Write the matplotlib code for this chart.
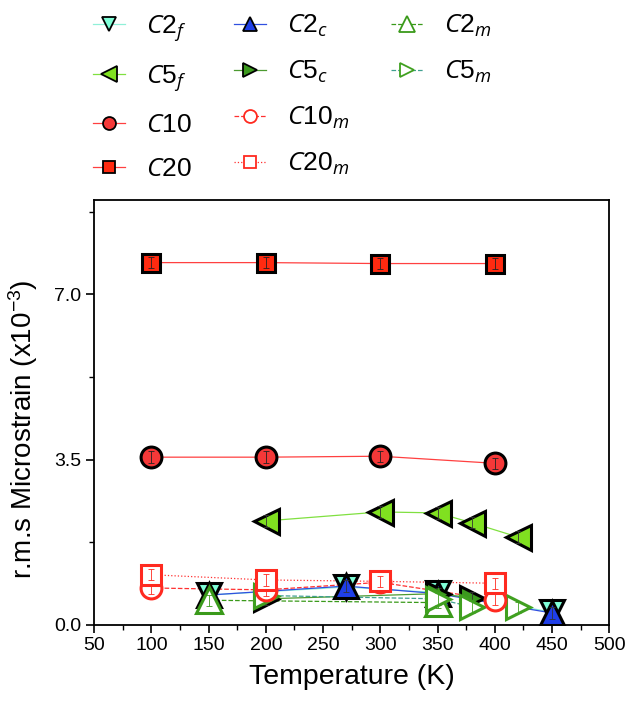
import matplotlib
matplotlib.use("Agg")
import matplotlib.pyplot as plt
from matplotlib.lines import Line2D
from matplotlib.ticker import MultipleLocator

plt.rcParams['font.family'] = ['Liberation Sans', 'DejaVu Sans']
plt.rcParams['mathtext.fontset'] = 'custom'
plt.rcParams['mathtext.rm'] = 'Liberation Sans'
plt.rcParams['mathtext.it'] = 'Open Sans:italic'

# data (x in K, y in 1e-3)
c2f_x = [150, 270, 350, 450]
c2f_y = [0.63, 0.80, 0.68, 0.27]
c2c_x = [150, 270, 350, 450]
c2c_y = [0.63, 0.82, 0.66, 0.25]
c2m_x = [150, 350]
c2m_y = [0.52, 0.47]
c5f_x = [200, 300, 350, 380, 420]
c5f_y = [2.20, 2.39, 2.37, 2.16, 1.86]
c5c_x = [200, 350, 380]
c5c_y = [0.55, 0.66, 0.57]
c5m_x = [200, 350, 380, 420]
c5m_y = [0.62, 0.55, 0.38, 0.37]
c10_x = [100, 200, 300, 400]
c10_y = [3.55, 3.55, 3.57, 3.42]
c10m_x = [100, 200, 300, 400]
c10m_y = [0.78, 0.74, 0.90, 0.53]
c20_x = [100, 200, 300, 400]
c20_y = [7.67, 7.67, 7.65, 7.65]
c20m_x = [100, 200, 300, 400]
c20m_y = [1.06, 0.95, 0.92, 0.88]

fig = plt.figure(figsize=(6.4, 7.06), dpi=100)
ax = fig.add_axes([0.147, 0.115, 0.805, 0.602])

# (x, y, name, subscript, marker, face, edge, line color, linestyle, size, errcolor)
series = [
    (c2f_x, c2f_y, 'C2', 'f', 'v', '#80ffd8', 'black', '#90f0d8', '-', 17, '#333333'),
    (c2c_x, c2c_y, 'C2', 'c', '^', '#1f3fe8', 'black', '#3050e0', '-', 17, '#333333'),
    (c5c_x, c5c_y, 'C5', 'c', '>', '#3c9a1e', 'black', '#4c9a30', '-', 17, '#333333'),
    (c2m_x, c2m_y, 'C2', 'm', '^', 'white', '#3a9a1a', '#3a9a1a', '--', 19, '#3a9a1a'),
    (c5m_x, c5m_y, 'C5', 'm', '>', 'white', '#40a020', '#40a090', '--', 17, '#40a020'),
    (c5f_x, c5f_y, 'C5', 'f', '<', '#80e020', 'black', '#80e040', '-', 18, '#333333'),
    (c10m_x, c10m_y, 'C10', 'm', 'o', 'white', '#ff2a20', '#ff3030', '--', 15, '#ff2a20'),
    (c20m_x, c20m_y, 'C20', 'm', 's', 'white', '#ff2a20', '#ff3030', ':', 14, '#ff2a20'),
    (c10_x, c10_y, 'C10', '', 'o', '#f53838', 'black', '#ff4040', '-', 15, '#222222'),
    (c20_x, c20_y, 'C20', '', 's', '#ff2a10', 'black', '#ff4040', '-', 13, '#222222'),
]

handles = {}
for i, (x, y, name, sub, mk, fc, ec, lc, ls, ms, erc) in enumerate(series):
    ax.plot(x, y, color=lc, linestyle=ls, linewidth=0.9, zorder=2 + i * 0.1)
    ax.plot(x, y, linestyle='none', marker=mk, markersize=ms,
            markerfacecolor=fc, markeredgecolor=ec, markeredgewidth=2.2,
            zorder=3 + i * 0.1)
    ax.errorbar(x, y, yerr=0.12, fmt='none', ecolor=erc, elinewidth=0.6,
                capsize=2.2, capthick=0.6, zorder=3.05 + i * 0.1)
    if sub:
        lab = r'$\mathit{%s}_{\mathit{%s}}$' % (name, sub)
    else:
        lab = r'$\mathit{%s}$' % name
    handles[name + sub] = Line2D([], [], color=lc, linestyle=ls, linewidth=0.9,
                                 marker=mk, markersize=ms * 0.62,
                                 markerfacecolor=fc, markeredgecolor=ec,
                                 markeredgewidth=1.3, label=lab)

blank = Line2D([], [], linestyle='none', label=' ')
order = ['C2f', 'C5f', 'C10', 'C20', 'C2c', 'C5c', 'C10m', 'C20m', 'C2m', 'C5m']
leg_h = [handles[k] for k in order] + [blank, blank]
fig.legend(handles=leg_h, labels=[h.get_label() for h in leg_h], ncol=3,
           loc='upper left', bbox_to_anchor=(0.125, 1.0), frameon=False,
           fontsize=19, handlelength=1.2, handletextpad=0.8,
           columnspacing=1.6, labelspacing=0.75, borderaxespad=0.1)

ax.set_xlim(50, 500)
ax.set_ylim(0, 9.0)
ax.xaxis.set_major_locator(MultipleLocator(50))
ax.xaxis.set_minor_locator(MultipleLocator(25))
ax.yaxis.set_major_locator(MultipleLocator(3.5))
ax.yaxis.set_minor_locator(MultipleLocator(1.75))
ax.yaxis.set_major_formatter(matplotlib.ticker.FormatStrFormatter('%.1f'))
ax.tick_params(which='major', direction='out', length=6, width=1.2,
               labelsize=14, pad=3)
ax.tick_params(which='minor', direction='out', length=3.5, width=1.0)
for sp in ax.spines.values():
    sp.set_linewidth(1.3)

ax.set_xlabel('Temperature (K)', fontsize=20.5, labelpad=7)
ax.set_ylabel(r'r.m.s Microstrain (x10$^{\mathrm{-3}}$)', fontsize=20)
ax.yaxis.set_label_coords(-0.105, 0.46)

fig.savefig('out.png', dpi=100)
